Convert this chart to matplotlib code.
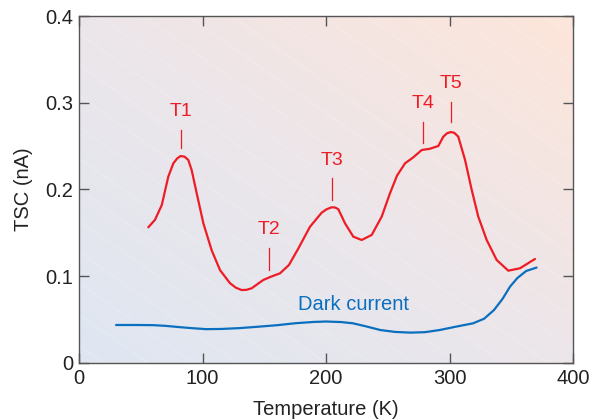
import numpy as np
import matplotlib.pyplot as plt
from matplotlib.colors import LinearSegmentedColormap

plt.rcParams['font.family'] = ['Liberation Sans', 'DejaVu Sans']

# TSC curve
tsc_t = [56.1, 61.5, 67.0, 72.3, 76.4, 79.5, 82.3, 85.5, 88.5, 91.2, 95.3,
         100.7, 107.4, 114.2, 122.3, 127.0, 131.7, 135.5, 139.8, 149.2, 155.5,
         162.8, 170, 177.6, 187.0, 196.5, 200.5, 204.6, 207.5, 210.0, 215.4,
         222.1, 228.9, 237.0, 245.1, 251.8, 257.5, 264.0, 270.7, 277.5, 284.2,
         290.9, 295.0, 298.0, 301.2, 304.0, 307.1, 312.6, 318.0, 323.3, 330.1,
         338.2, 347.6, 357.1, 369.2]
tsc_i = [0.1564, 0.165, 0.182, 0.2148, 0.2302, 0.2358, 0.2386, 0.2378, 0.234,
         0.2225, 0.1956, 0.161, 0.130, 0.107, 0.0919, 0.0868, 0.0841, 0.0843,
         0.0861, 0.0957, 0.0995, 0.1034, 0.113, 0.132, 0.157, 0.1733, 0.1772,
         0.1795, 0.1792, 0.1772, 0.161, 0.1456, 0.1418, 0.1476, 0.1687, 0.1956,
         0.2160, 0.2302, 0.2371, 0.2455, 0.247, 0.2501, 0.2609, 0.2648, 0.2663,
         0.2652, 0.2609, 0.234, 0.1994, 0.1687, 0.1418, 0.1187, 0.1064, 0.1092,
         0.1199]

# dark current
dark_t = [30, 45, 60, 70, 80, 90, 103, 115, 130, 145, 160, 175, 190, 200, 212,
          222, 233, 244, 256, 268, 280, 292, 305, 319, 328, 336, 343, 349, 355,
          362, 370.5]
dark_i = [0.0438, 0.0438, 0.0436, 0.0428, 0.0415, 0.0403, 0.039, 0.0392,
          0.0402, 0.0418, 0.0435, 0.0458, 0.0473, 0.0478, 0.0472, 0.0457,
          0.042, 0.038, 0.0358, 0.035, 0.0355, 0.038, 0.0418, 0.0457, 0.051,
          0.061, 0.074, 0.088, 0.098, 0.106, 0.110]

# trap labels: name, x, top of marker, bottom of marker
traps = ["T1", "T2", "T3", "T4", "T5"]
trap_x = [82.6, 153.6, 205, 278.5, 301]
trap_top = [0.269, 0.133, 0.213, 0.278, 0.301]
trap_bot = [0.248, 0.107, 0.188, 0.254, 0.278]

red = "#ee1c25"
blue = "#0a6fbf"

fig = plt.figure(figsize=(5.99, 4.19), dpi=100)
ax = fig.add_axes([0.1319, 0.1337, 0.8247, 0.8281])

# diagonal gradient background
n = 200
gx, gy = np.meshgrid(np.linspace(0, 1, n), np.linspace(0, 1, n))
grad = (gx + gy) / 2
cmap = LinearSegmentedColormap.from_list("bg", ["#dfe6f2", "#ece6ea", "#fde5da"])
ax.imshow(grad, extent=[0, 1, 0, 1], origin="lower", cmap=cmap,
          transform=ax.transAxes, aspect="auto", zorder=0)
# faint diagonal streaks
for c in np.arange(0.05, 2.0, 0.09):
    ax.plot([c - 1.2, c], [1.2, 0], color="white", lw=0.6, alpha=0.25,
            transform=ax.transAxes, zorder=0.5)

ax.plot(tsc_t, tsc_i, color=red, lw=1.6, zorder=3,
        solid_joinstyle="round", solid_capstyle="round")
ax.plot(dark_t, dark_i, color=blue, lw=1.6, zorder=3,
        solid_joinstyle="round", solid_capstyle="round")

for name, x, top, bot in zip(traps, trap_x, trap_top, trap_bot):
    ax.plot([x, x], [bot, top], color=red, lw=0.9, zorder=3)
    ax.text(x, top + 0.011, name, color=red, fontsize=14, ha="center", va="bottom")

ax.text(222, 0.067, "Dark current", color=blue, fontsize=14.5, ha="center", va="center")

ax.set_xlim(0, 400)
ax.set_ylim(0, 0.4)
ax.set_xticks([0, 100, 200, 300, 400])
ax.set_yticks([0, 0.1, 0.2, 0.3, 0.4])
ax.set_xticklabels(["0", "100", "200", "300", "400"])
ax.set_yticklabels(["0", "0.1", "0.2", "0.3", "0.4"])
ax.tick_params(direction="in", length=7, width=1, color="#555555",
               top=True, right=True, labelsize=14.5, labelcolor="#222222", pad=4)
for s in ax.spines.values():
    s.set_color("#555555")
    s.set_linewidth(1)

ax.set_xlabel("Temperature (K)", fontsize=14.5, color="#222222", labelpad=9)
ax.set_ylabel("TSC (nA)", fontsize=14.5, color="#222222", labelpad=9)

fig.savefig("out.png", dpi=100)
